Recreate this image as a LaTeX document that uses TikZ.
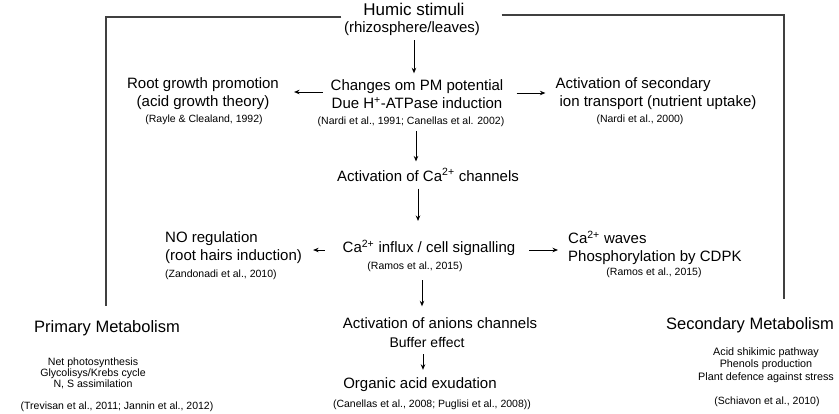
\documentclass[tikz,border=0pt]{standalone}
\usepackage{fontspec}
\setmainfont{Liberation Sans}
\usetikzlibrary{arrows.meta,calc}
\tikzset{
  txt/.style={inner sep=0pt,font=\fontsize{15}{18}\selectfont,align=center},
  cite/.style={inner sep=0pt,font=\fontsize{10.5}{12}\selectfont,align=center},
  big/.style={inner sep=0pt,font=\fontsize{16.5}{19}\selectfont},
  item/.style={inner sep=0pt,font=\fontsize{10.6}{11.3}\selectfont,align=center},
  arr/.style={line width=0.9pt,-{Stealth[length=5.5pt,width=4.5pt]}},
  frame/.style={line width=1.3pt,draw=black!75}
}
\begin{document}
\begin{tikzpicture}[x=1pt,y=-1pt]
\useasboundingbox (0,0) rectangle (839,413);
% top
\node[big,font=\fontsize{17}{19}\selectfont] (humic) at (414,9) {Humic stimuli};
\node[txt] (rhizo) at (412,29) {(rhizosphere/leaves)};
% row 1
\node[txt] (changes) at (417,94) {Changes om PM potential\\Due H\textsuperscript{+}-ATPase induction};
\node[cite] (c1) at (411,122) {(Nardi et al., 1991; Canellas et al. 2002)};
\node[txt] (root) at (203,94) {Root growth promotion\\(acid growth theory)};
\node[cite] (c2) at (204,120) {(Rayle \& Clealand, 1992)};
\node[txt,align=left] (second) at (656,94) {Activation of secondary\\ \hspace{4pt}ion transport (nutrient uptake)};
\node[cite] (c3) at (640,120) {(Nardi et al., 2000)};
% row 2
\node[txt] (cach) at (428,175) {Activation of Ca\textsuperscript{2+} channels};
% row 3
\node[txt] (influx) at (429,248) {Ca\textsuperscript{2+} influx / cell signalling};
\node[cite] (c4) at (415,267) {(Ramos et al., 2015)};
\node[txt,align=left,anchor=west] (no) at (165,248) {NO regulation\\(root hairs induction)};
\node[cite,anchor=west] (c5) at (165,275) {(Zandonadi et al., 2010)};
\node[txt,align=left,anchor=west] (waves) at (568,248) {Ca\textsuperscript{2+} waves\\Phosphorylation by CDPK};
\node[cite] (c6) at (654,273) {(Ramos et al., 2015)};
% row 4
\node[txt] (anion) at (440,323) {Activation of anions channels};
\node[txt,font=\fontsize{14}{16}\selectfont] (buffer) at (427,342) {Buffer effect};
\node[txt] (organic) at (420,385) {Organic acid exudation};
\node[cite] (c7) at (432,405) {(Canellas et al., 2008; Puglisi et al., 2008))};
% metabolism
\node[big] (prim) at (107,328) {Primary Metabolism};
\node[item] (primlist) at (93,373.5) {Net photosynthesis\\Glycolisys/Krebs cycle\\N, S assimilation};
\node[cite] (c8) at (117,407) {(Trevisan et al., 2011; Jannin et al., 2012)};
\node[big] (sec) at (750,325) {Secondary Metabolism};
\node[item,font=\fontsize{10.8}{12.4}\selectfont] (seclist) at (766,365) {Acid shikimic pathway\\Phenols production\\Plant defence against stress};
\node[cite] (c9) at (767,402) {(Schiavon et al., 2010)};
% frame lines
\draw[frame] ($(humic.west)+(-22,8)$) -| ($(prim.north)+(-1,-14)$);
\draw[frame] ($(humic.east)+(37,6)$) -| ($(sec.north)+(34,-18)$);
% arrows
\coordinate (a1) at ($(rhizo.south)+(2,4)$);
\draw[arr] (a1) -- ($(a1 |- changes.north)+(0,-6)$);
\draw[arr] ($(changes.west)+(-8,-2)$) -- ($(root.east)+(15,-2)$);
\draw[arr] ($(changes.east)+(13,-1)$) -- ($(second.west)+(-10,-1)$);
\coordinate (a2) at ($(c1.south)+(5,4)$);
\draw[arr] (a2) -- ($(a2 |- cach.north)+(0,-7)$);
\coordinate (a3) at ($(cach.south)+(-10,7)$);
\draw[arr] (a3) -- ($(a3 |- influx.north)+(0,-19)$);
\draw[arr] ($(influx.west)+(-18,2)$) -- ($(no.east)+(11,2)$);
\draw[arr] ($(influx.east)+(14,2)$) -- ($(waves.west)+(-10,2)$);
\coordinate (a4) at ($(c4.south)+(7,8)$);
\draw[arr] (a4) -- ($(a4 |- anion.north)+(0,-11)$);
\coordinate (a5) at ($(buffer.south)+(-4,7)$);
\draw[arr] (a5) -- ($(a5 |- organic.north)+(0,-8)$);
\end{tikzpicture}
\end{document}
